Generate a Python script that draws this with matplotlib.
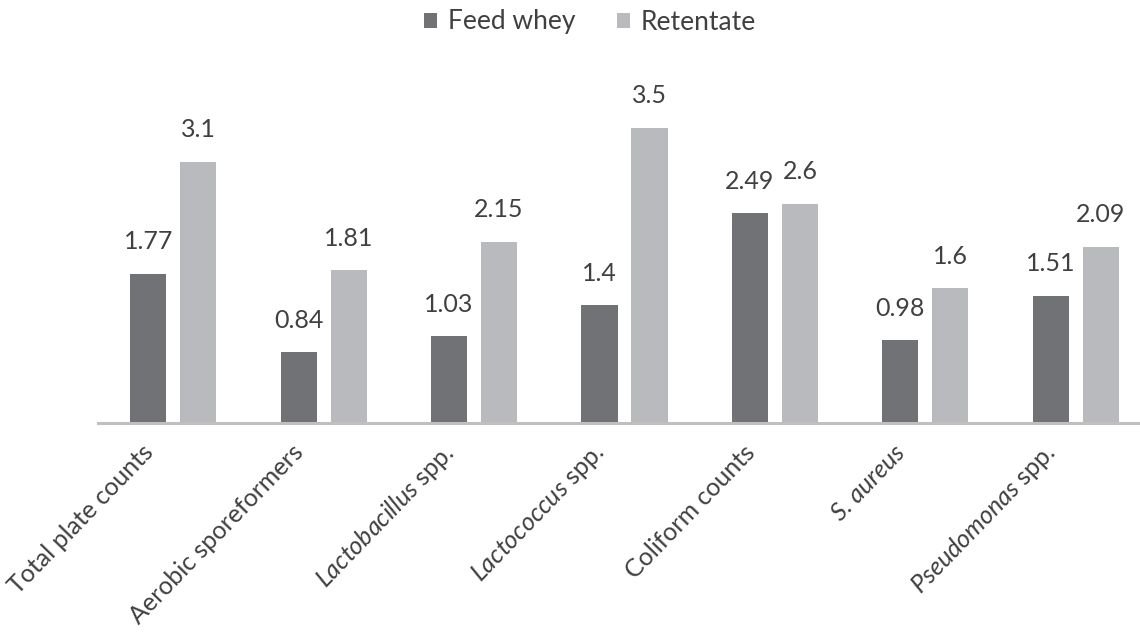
import numpy as np
import matplotlib
matplotlib.use("Agg")
import matplotlib.pyplot as plt
import matplotlib.transforms as mtransforms

plt.rcParams['font.family'] = ['Lato', 'DejaVu Sans']
plt.rcParams['mathtext.fontset'] = 'custom'
plt.rcParams['mathtext.rm'] = 'Lato'
plt.rcParams['mathtext.it'] = 'Lato:italic'

# data
categories = ['Total plate counts', 'Aerobic sporeformers',
              r'$\mathit{Lactobacillus}$ spp.', r'$\mathit{Lactococcus}$ spp.',
              'Coliform counts', 'S. aureus', r'$\mathit{Pseudomonas}$ spp.']
feed_whey = [1.77, 0.84, 1.03, 1.4, 2.49, 0.98, 1.51]
retentate = [3.1, 1.81, 2.15, 3.5, 2.6, 1.6, 2.09]

dark = '#707275'
light = '#b8babd'
txt = '#404040'

fig = plt.figure(figsize=(11.4, 6.35), dpi=100)
# axes runs a bit past the right edge like the original crop
W, H = 1140, 635
left, right = 98, 1151
base, top = 423, 52
ax = fig.add_axes([left / W, 1 - base / H, (right - left) / W, (base - top) / H])

x = np.arange(len(categories))
w = 0.24
off = 0.166
b1 = ax.bar(x - off, feed_whey, w, color=dark, label='Feed whey')
b2 = ax.bar(x + off, retentate, w, color=light, label='Retentate')

for bars, vals in ((b1, feed_whey), (b2, retentate)):
    for r, v in zip(bars, vals):
        ax.annotate(f'{v:g}', (r.get_x() + r.get_width() / 2, v),
                    xytext=(0, 23), textcoords='offset points',
                    ha='center', va='center', fontsize=18, color=txt)

ax.set_xlim(-0.5, len(categories) - 0.5)
ax.set_ylim(0, 4.4)
ax.set_yticks([])
ax.set_xticks(x)
ax.set_xticklabels(categories, rotation=46, ha='right', va='center',
                   rotation_mode='anchor', fontsize=18, color=txt)
ax.tick_params(axis='x', length=0, pad=12)
shift = mtransforms.ScaledTranslation(-24 / 100, -9 / 100, fig.dpi_scale_trans)
for lab in ax.get_xticklabels():
    lab.set_transform(lab.get_transform() + shift)
    if lab.get_text() == 'S. aureus':
        lab.set_fontstyle('italic')
for s in ['top', 'right', 'left']:
    ax.spines[s].set_visible(False)
ax.spines['bottom'].set_color('#bfbfbf')
ax.spines['bottom'].set_linewidth(2.2)

fig.legend(loc='center', bbox_to_anchor=(590 / W, 1 - 22 / H), ncol=2,
           frameon=False, fontsize=19, handlelength=0.5, handleheight=0.5,
           handletextpad=0.4, columnspacing=1.6, labelcolor=txt)

fig.savefig('out.png', dpi=100)
